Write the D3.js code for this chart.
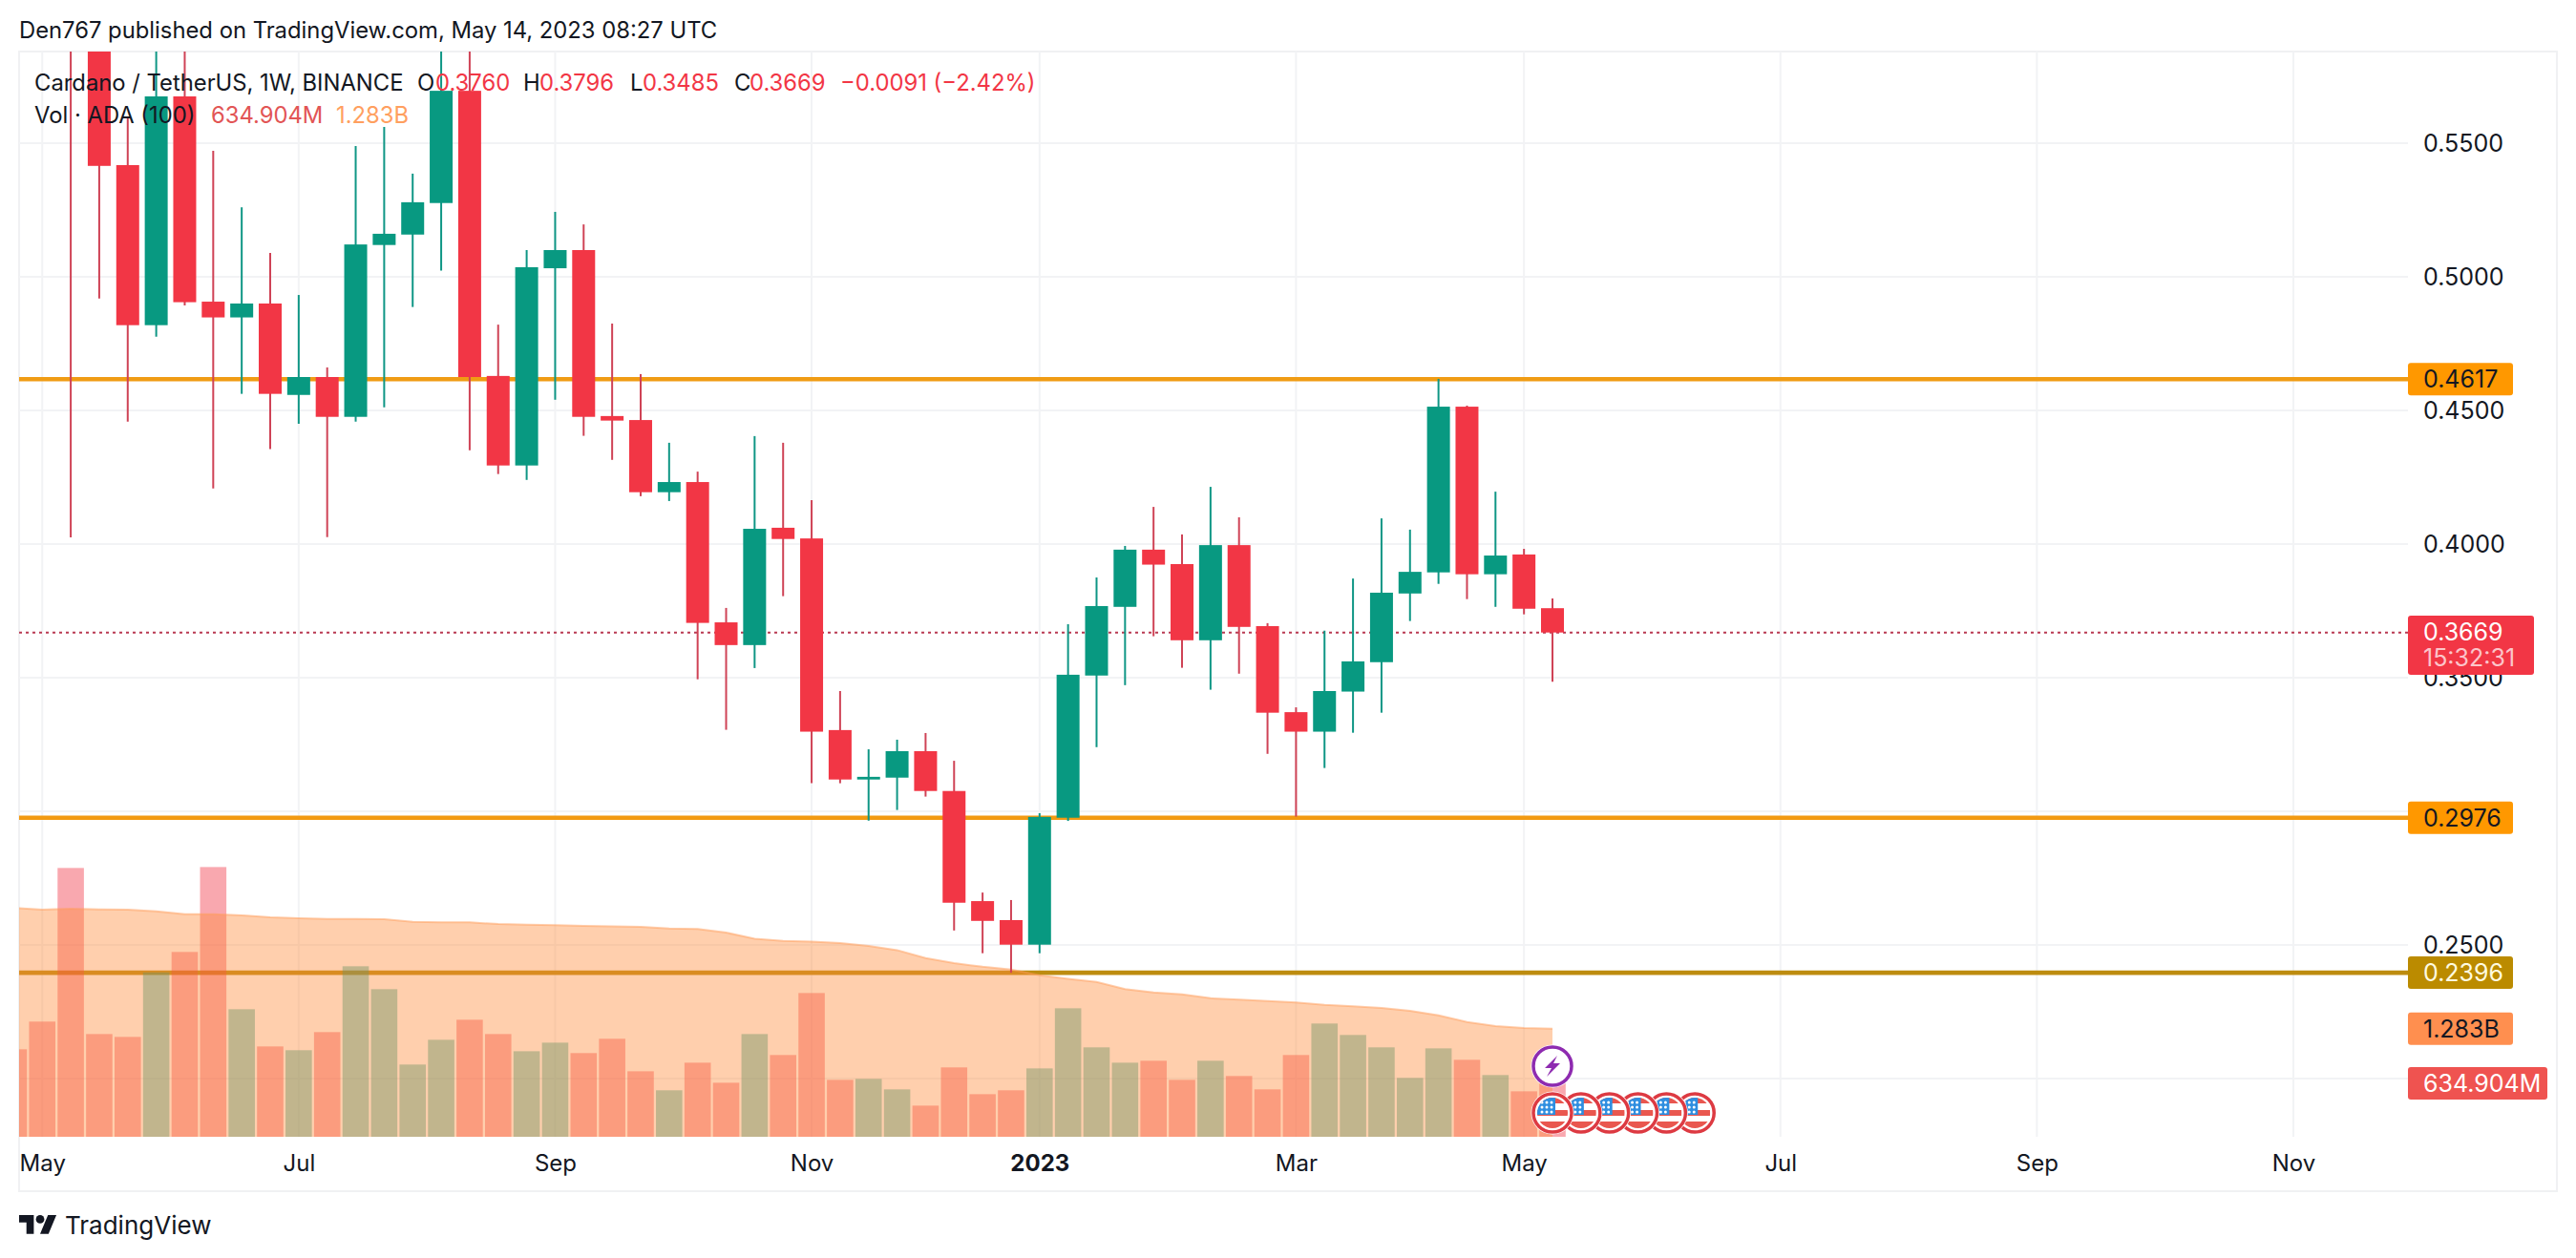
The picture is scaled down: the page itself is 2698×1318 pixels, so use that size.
<!DOCTYPE html>
<html>
<head>
<meta charset="utf-8">
<title>Cardano / TetherUS</title>
<script src="https://cdn.jsdelivr.net/npm/d3@7"></script>
<style>
  html, body { margin: 0; background: #fff; }
  text { font-family: Inter, "Noto Sans", sans-serif; font-size: 25px; fill: #131722; }
</style>
</head>
<body>
<div class="chart"></div>
<script>
// DATA ------------------------------
// weekly candles. the first ones run above the visible pane, so those are guesses
const firstWeek = new Date(Date.UTC(2022, 3, 25));

const opens = [0.8000, 0.8000, 0.7600, 0.6200, 0.5418, 0.4819, 0.5675, 0.4907, 0.4848, 0.4900, 0.4558, 0.4625, 0.4476, 0.5119,
  0.5158, 0.5276, 0.5696, 0.4629, 0.4294, 0.5032, 0.5100, 0.4479, 0.4464, 0.4194, 0.4232, 0.3707, 0.3622, 0.4061,
  0.4021, 0.3304, 0.3119, 0.3126, 0.3225, 0.3076, 0.2664, 0.2593, 0.2501, 0.2976, 0.3508, 0.3765, 0.3979, 0.3925,
  0.3640, 0.3996, 0.3693, 0.3371, 0.3298, 0.3448, 0.3558, 0.3815, 0.3894, 0.4514, 0.3887, 0.3961, 0.3760];
const highs = [0.8400, 0.8800, 0.8000, 0.6400, 0.5596, 0.6100, 0.6000, 0.5471, 0.5260, 0.5089, 0.4932, 0.4661, 0.5489, 0.5561,
  0.5386, 0.6000, 0.6000, 0.4821, 0.5100, 0.5243, 0.5196, 0.4825, 0.4636, 0.4379, 0.4271, 0.3761, 0.4404, 0.4379,
  0.4164, 0.3450, 0.3232, 0.3268, 0.3293, 0.3189, 0.2696, 0.2668, 0.2993, 0.3700, 0.3875, 0.3993, 0.4139, 0.4036,
  0.4214, 0.4100, 0.3704, 0.3389, 0.3676, 0.3871, 0.4096, 0.4054, 0.4618, 0.4518, 0.4196, 0.3982, 0.3796];
const lows = [0.7200, 0.7200, 0.4025, 0.4919, 0.4458, 0.4776, 0.4893, 0.4208, 0.4562, 0.4355, 0.4450, 0.4026, 0.4458, 0.4512,
  0.4887, 0.5023, 0.4351, 0.4262, 0.4240, 0.4540, 0.4405, 0.4315, 0.4179, 0.4161, 0.3494, 0.3305, 0.3536, 0.3805,
  0.3105, 0.3105, 0.2965, 0.3005, 0.3055, 0.2554, 0.2469, 0.2396, 0.2469, 0.2964, 0.3240, 0.3472, 0.3655, 0.3537,
  0.3455, 0.3515, 0.3215, 0.2980, 0.3162, 0.3294, 0.3369, 0.3712, 0.3851, 0.3794, 0.3765, 0.3737, 0.3485];
const closes = [0.7500, 0.7600, 0.6200, 0.5415, 0.4819, 0.5675, 0.4905, 0.4848, 0.4900, 0.4562, 0.4625, 0.4476, 0.5121, 0.5161,
  0.5279, 0.5696, 0.4625, 0.4294, 0.5036, 0.5100, 0.4476, 0.4462, 0.4194, 0.4232, 0.3705, 0.3622, 0.4057, 0.4019,
  0.3298, 0.3119, 0.3129, 0.3225, 0.3076, 0.2658, 0.2590, 0.2501, 0.2979, 0.3511, 0.3768, 0.3979, 0.3923, 0.3640,
  0.3996, 0.3690, 0.3369, 0.3298, 0.3450, 0.3561, 0.3818, 0.3896, 0.4514, 0.3887, 0.3957, 0.3758, 0.3669];

// volume and its 100 week average, in millions
const volumes = [1039, 1368, 3192, 1220, 1186, 1952, 2195, 3203, 1515, 1073, 1028, 1243, 2025, 1753, 858, 1152, 1390, 1220,
  1016, 1118, 994, 1164, 778, 552, 880, 642, 1220, 971, 1707, 676, 688, 563, 370, 824, 506, 552, 812, 1526, 1062, 880,
  903, 676, 903, 722, 563, 971, 1345, 1209, 1062, 699, 1050, 914, 733, 540, 634.904];
const volumeMA = [2719, 2697, 2708, 2700, 2697, 2677, 2643, 2643, 2629, 2606, 2595, 2587, 2587, 2583, 2553, 2546, 2546, 2527,
  2519, 2512, 2504, 2500, 2493, 2473, 2467, 2425, 2353, 2326, 2319, 2300, 2266, 2217, 2122, 2062, 2020, 1986, 1918, 1877,
  1839, 1753, 1714, 1692, 1646, 1628, 1612, 1594, 1567, 1549, 1530, 1496, 1442, 1363, 1314, 1292, 1283];

const priceGrid = [0.55, 0.50, 0.45, 0.40, 0.35, 0.30, 0.25, 0.20];
const priceLabels = [0.55, 0.50, 0.45, 0.40, 0.35, 0.25];
const levels = [0.4617, 0.2976, 0.2396];
const levelColors = ["#f09c14", "#f29a12", "#bd8c10"];
const lastPrice = 0.3669;

const timeTicks = [[2022, 4, 2, "May"], [2022, 6, 4, "Jul"], [2022, 8, 5, "Sep"], [2022, 10, 7, "Nov"], [2023, 0, 2, "2023"],
  [2023, 2, 6, "Mar"], [2023, 4, 1, "May"], [2023, 6, 3, "Jul"], [2023, 8, 4, "Sep"], [2023, 10, 6, "Nov"]];
const tickDates = timeTicks.map(d => new Date(Date.UTC(d[0], d[1], d[2])));
const tickNames = timeTicks.map(d => d[3]);

const weeks = opens.map((d, i) => d3.utcWeek.offset(firstWeek, i));
const eventWeeks = d3.range(6).map(i => d3.utcWeek.offset(weeks[54], i));

// CHART INIT ------------------------------
const width = 2698, height = 1318;
const pane = {left: 20, right: 2522, top: 54, bottom: 1191};

const red = "#f23645", green = "#089981";

const svg = d3.select(".chart").append("svg")
    .attr("width", width)
    .attr("height", height)
    .style("display", "block");

svg.append("clipPath").attr("id", "pane-clip").append("rect")
    .attr("x", pane.left).attr("y", pane.top)
    .attr("width", pane.right - pane.left).attr("height", pane.bottom - pane.top);

// one week is 29.85px, May 2022 sits at 44
const xScale = d3.scaleTime()
    .domain([weeks[0], weeks[54]])
    .range([14.4, 1626]);

const yScale = d3.scaleLinear()
    .domain([0.55, 0.20])
    .range([150, 1130]);

const volScale = d3.scaleLinear()
    .domain([0, 1283])
    .range([pane.bottom, pane.bottom - 113.2]);

// outer frame
svg.append("rect")
    .attr("x", 20).attr("y", 54).attr("width", 2658).attr("height", 1194)
    .attr("fill", "none").attr("stroke", "#f0f1f3").attr("stroke-width", 2);

const plot = svg.append("g").attr("clip-path", "url(#pane-clip)");

// grid
plot.selectAll(".grid-h").data(priceGrid).enter().append("line")
    .attr("x1", pane.left).attr("x2", pane.right)
    .attr("y1", d => yScale(d)).attr("y2", d => yScale(d))
    .attr("stroke", "#f2f3f5").attr("stroke-width", 2);
plot.selectAll(".grid-v").data(tickDates).enter().append("line")
    .attr("x1", d => xScale(d)).attr("x2", d => xScale(d))
    .attr("y1", pane.top).attr("y2", pane.bottom)
    .attr("stroke", "#f2f3f5").attr("stroke-width", 2);

// horizontal levels
plot.selectAll(".level").data(levels).enter().append("line")
    .attr("x1", pane.left).attr("x2", pane.right)
    .attr("y1", d => yScale(d)).attr("y2", d => yScale(d))
    .attr("stroke", (d, i) => levelColors[i]).attr("stroke-width", 4.6);

// volume, then the average area on top so the bars tint through it
plot.selectAll(".vol").data(volumes).enter().append("rect")
    .attr("x", (d, i) => xScale(weeks[i]) - 13.8)
    .attr("width", 27.6)
    .attr("y", d => volScale(d))
    .attr("height", d => pane.bottom - volScale(d))
    .attr("fill", (d, i) => closes[i] >= opens[i] ? green : red)
    .attr("fill-opacity", 0.43);

const maArea = d3.area()
    .x((d, i) => xScale(weeks[i]))
    .y0(pane.bottom)
    .y1(d => volScale(d));
const maLine = d3.line()
    .x((d, i) => xScale(weeks[i]))
    .y(d => volScale(d));

plot.append("path").attr("d", maArea(volumeMA)).attr("fill", "#ff8c3c").attr("fill-opacity", 0.42);
plot.append("path").attr("d", maLine(volumeMA)).attr("fill", "none").attr("stroke", "#ff9d5c").attr("stroke-opacity", 0.5).attr("stroke-width", 2);

// last price line
plot.append("line")
    .attr("x1", pane.left).attr("x2", pane.right)
    .attr("y1", yScale(lastPrice)).attr("y2", yScale(lastPrice))
    .attr("stroke", "#b93a52").attr("stroke-width", 2).attr("stroke-dasharray", "3 4");

// candles
const candles = plot.selectAll(".candle").data(opens).enter().append("g");
candles.append("line")
    .attr("x1", (d, i) => xScale(weeks[i])).attr("x2", (d, i) => xScale(weeks[i]))
    .attr("y1", (d, i) => yScale(highs[i]))
    .attr("y2", (d, i) => yScale(lows[i]))
    .attr("stroke", (d, i) => closes[i] >= opens[i] ? "#0f9685" : "#cf4356")
    .attr("stroke-width", 2);
candles.append("rect")
    .attr("x", (d, i) => xScale(weeks[i]) - 12)
    .attr("width", 24)
    .attr("y", (d, i) => yScale(Math.max(opens[i], closes[i])))
    .attr("height", (d, i) => Math.abs(yScale(opens[i]) - yScale(closes[i])))
    .attr("fill", (d, i) => closes[i] >= opens[i] ? green : red);

// AXES ------------------------------
const priceAxis = d3.axisRight(yScale)
    .tickValues(priceLabels)
    .tickFormat(d3.format(".4f"))
    .tickSize(0)
    .tickPadding(16);
const priceG = svg.append("g").attr("transform", `translate(${pane.right},0)`).call(priceAxis);
priceG.select(".domain").remove();

const timeAxis = d3.axisBottom(xScale)
    .tickValues(tickDates)
    .tickFormat((d, i) => tickNames[i])
    .tickSize(0)
    .tickPadding(19);
const timeG = svg.append("g").attr("transform", `translate(0,${pane.bottom})`).call(timeAxis);
timeG.select(".domain").remove();
timeG.selectAll("text")
    .style("font-size", "24px")
    .style("font-weight", d => d.getUTCFullYear() == 2023 && d.getUTCMonth() == 0 ? 700 : 400);
svg.selectAll("g").attr("font-size", null).attr("font-family", null);

// PRICE TAGS ------------------------------
function tag(value, y, w, h, bg, fg) {
    svg.append("rect").attr("x", pane.right).attr("y", y - h / 2).attr("width", w).attr("height", h)
        .attr("rx", 3).attr("fill", bg);
    svg.append("text").attr("x", pane.right + 16).attr("y", y).attr("dy", "0.36em")
        .style("fill", fg).text(value);
}
levels.forEach((d, i) => {
    tag(d.toFixed(4), yScale(d), 110, 34, i == 2 ? "#bb8b00" : "#ff9800", i == 2 ? "#fffbe0" : "#131722");
});
tag("1.283B", volScale(1283), 110, 34, "#ff8f4f", "#131722");
tag("634.904M", volScale(634.904), 146, 34, "#ef5350", "#ffffff");

svg.append("rect").attr("x", pane.right).attr("y", 645).attr("width", 132).attr("height", 62).attr("rx", 3).attr("fill", red);
svg.append("text").attr("x", pane.right + 16).attr("y", 662).attr("dy", "0.36em").style("fill", "#ffffff").text(lastPrice.toFixed(4));
svg.append("text").attr("x", pane.right + 16).attr("y", 689).attr("dy", "0.36em").style("fill", "#fcc5ca").text("15:32:31");

// LEGEND ------------------------------
function label(x, y, txt, color, weight) {
    return svg.append("text").attr("x", x).attr("y", y).attr("dy", "0.36em")
        .style("font-size", "23.8px")
        .style("fill", color || "#131722").style("font-weight", weight || 400).text(txt);
}
label(20, 31, "Den767 published on TradingView.com, May 14, 2023 08:27 UTC");
label(36, 86, "Cardano / TetherUS, 1W, BINANCE");
label(437, 86, "O"); label(456, 86, "0.3760", red);
label(548, 86, "H"); label(565, 86, "0.3796", red);
label(660, 86, "L"); label(673, 86, "0.3485", red);
label(769, 86, "C"); label(785, 86, "0.3669", red);
label(880, 86, "\u22120.0091 (\u22122.42%)", red);
label(36, 120, "Vol \u00b7 ADA (100)");
label(221, 120, "634.904M", "#e25555");
label(352, 120, "1.283B", "#ff9f5f");

// logo + wordmark
const logo = svg.append("g").attr("transform", "translate(20,1268.6) scale(1.1)");
logo.append("path").attr("d", "M14 22H7V11H0V4h14v18zM28 22h-8l7.5-18h8L28 22z").attr("fill", "#131722");
logo.append("circle").attr("cx", 20).attr("cy", 8).attr("r", 4).attr("fill", "#131722");
label(68, 1284, "TradingView", "#131722", 400).style("font-size", "26px");

// EVENT MARKERS ------------------------------
const flagY = 1166, flashY = 1117;

svg.append("clipPath").attr("id", "flag-clip").append("circle").attr("r", 16);

const flags = svg.selectAll(".flag").data(eventWeeks.slice().reverse()).enter().append("g")
    .attr("transform", d => `translate(${xScale(d)},${flagY})`);
flags.append("circle").attr("r", 22.5).attr("fill", "#fff");
flags.append("circle").attr("r", 20).attr("fill", "#fff").attr("stroke", "#dd3a42").attr("stroke-width", 3.5);
const flagInner = flags.append("g").attr("clip-path", "url(#flag-clip)");
flagInner.append("rect").attr("x", -16).attr("y", -16).attr("width", 32).attr("height", 6).attr("fill", "#e9574f");
flagInner.append("rect").attr("x", -16).attr("y", -3).attr("width", 32).attr("height", 6).attr("fill", "#e9574f");
flagInner.append("rect").attr("x", -16).attr("y", 9).attr("width", 32).attr("height", 8).attr("fill", "#e9574f");
flagInner.append("rect").attr("x", -16).attr("y", -16).attr("width", 19).attr("height", 18).attr("fill", "#2e8ee0");
[-11, -6, -1].forEach(dy => {
    [-11, -6, -1].forEach(dx => {
        flagInner.append("circle").attr("cx", dx).attr("cy", dy).attr("r", 1.5).attr("fill", "#fff");
    });
});

const flash = svg.append("g").attr("transform", `translate(${xScale(eventWeeks[0])},${flashY})`);
flash.append("circle").attr("r", 22.5).attr("fill", "#fff");
flash.append("circle").attr("r", 20).attr("fill", "#fff").attr("stroke", "#8e2bb0").attr("stroke-width", 3.5);
flash.append("path").attr("d", "M5 -11L-8 2L-1 2L-6 11L8 -3L1 -3Z").attr("fill", "#8e2bb0");
</script>
</body>
</html>
